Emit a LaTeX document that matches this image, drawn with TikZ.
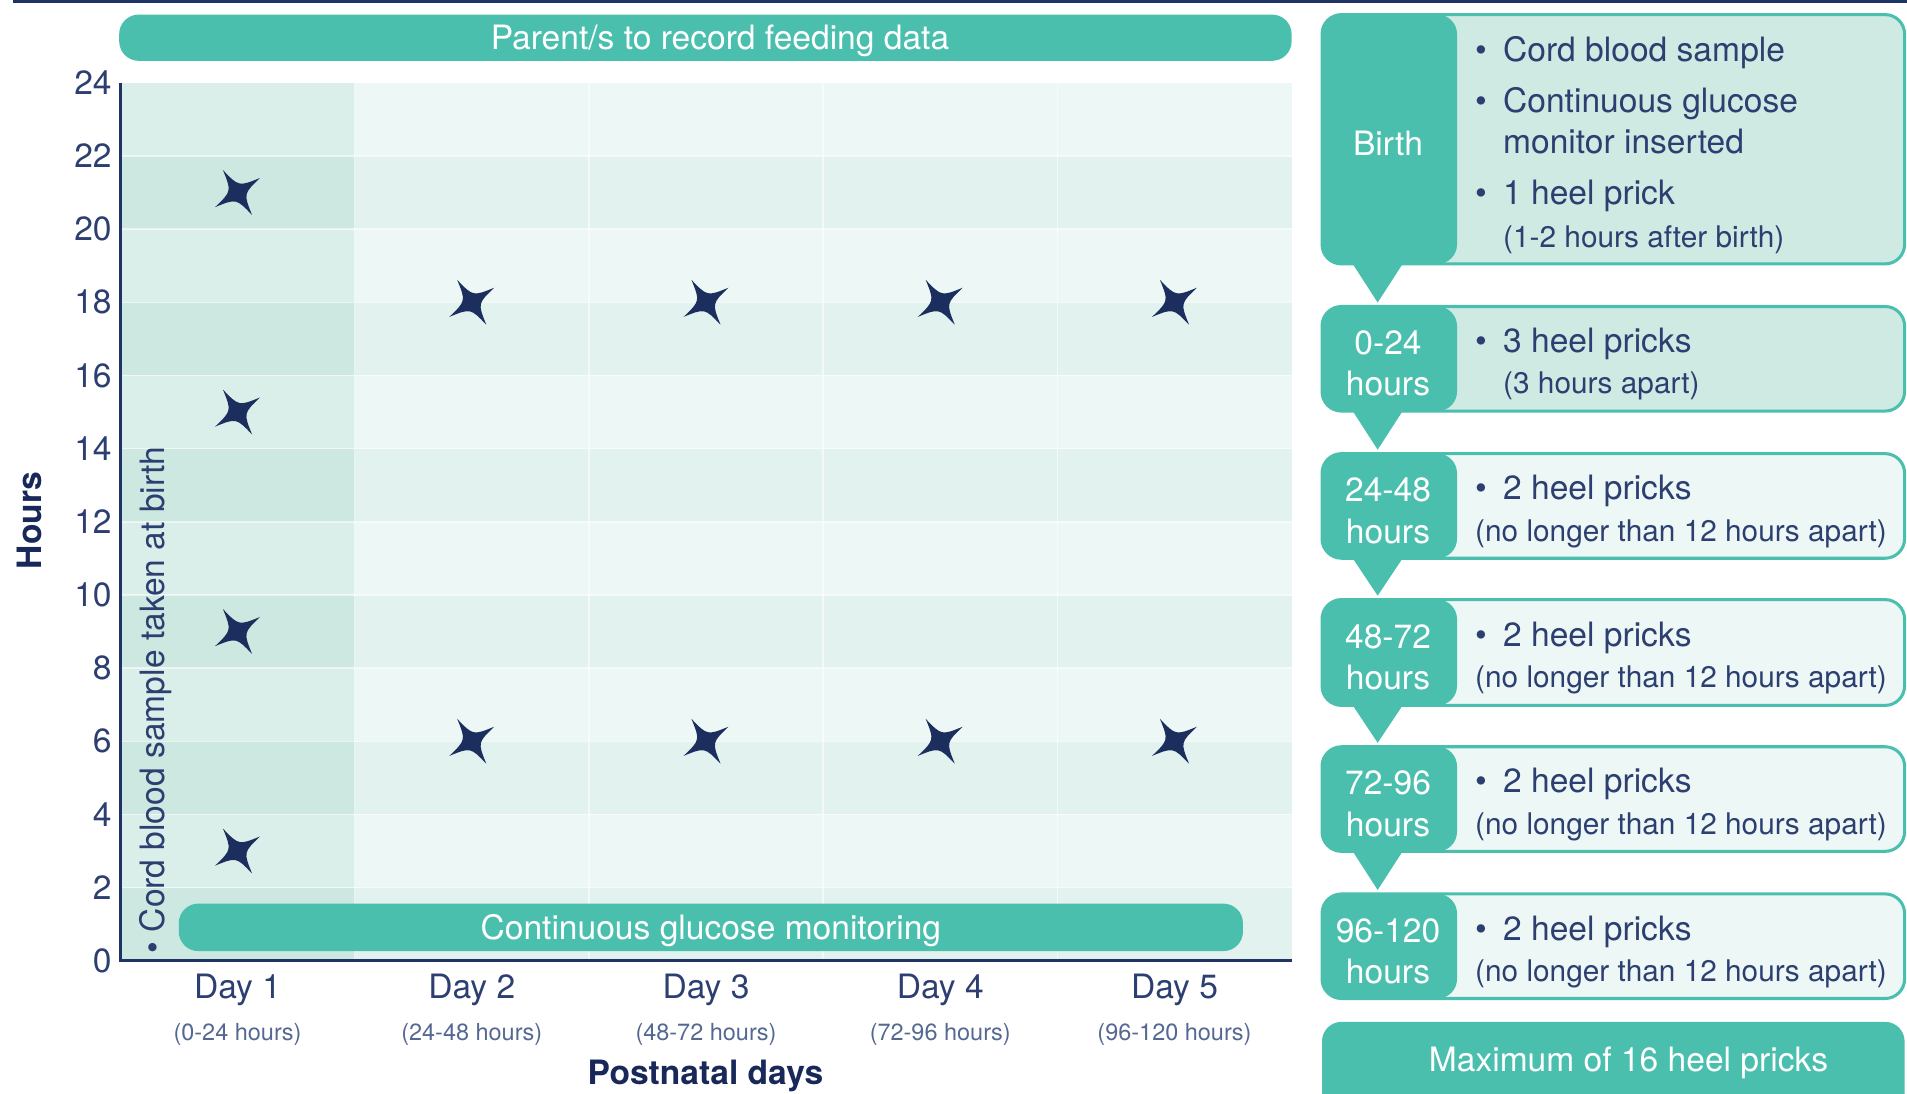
\documentclass[tikz,border=0pt]{standalone}
\usepackage{fontspec}
\setmainfont{TeX Gyre Heros}
\usetikzlibrary{positioning,calc}

\definecolor{mint}{RGB}{75,191,174}
\definecolor{ink}{RGB}{31,52,100}
\definecolor{inktext}{RGB}{44,63,112}
\definecolor{inksoft}{RGB}{84,104,146}
\definecolor{inkdark}{RGB}{24,40,88}
\definecolor{starc}{RGB}{27,46,94}
\definecolor{palemint}{RGB}{207,233,227}
\definecolor{palest}{RGB}{237,247,245}
\definecolor{dayonelt}{RGB}{218,238,234}
\definecolor{dayonedk}{RGB}{204,232,225}
\definecolor{daylt}{RGB}{237,247,245}
\definecolor{daydk}{RGB}{226,242,239}

\newcommand\fbase{\fontsize{27.6}{34}\selectfont}
\newcommand\fsub{\fontsize{24.5}{34}\selectfont}
\newcommand\fday{\fontsize{19.3}{23}\selectfont}
\newcommand\bul{\makebox[23pt][l]{\textbullet}}
\newcommand\bulgap{\hspace*{23pt}}

\begin{document}
\begin{tikzpicture}[x=1pt, y=-1pt,
	lbl/.style = {inner sep=0pt, font=\fbase},
	bar/.style = {fill=mint, rounded corners=16pt, text=white, font=\fbase, inner sep=0pt},
	stage/.style = {draw=mint, line width=2.5pt, rounded corners=16pt, minimum width=479pt, inner sep=0pt,
		path picture={\fill[mint] (path picture bounding box.north west) rectangle ([xshift=111pt]path picture bounding box.south west);}},
	grid/.style = {white, line width=1.2pt, opacity=0.6},
	sparkle/.pic = {\fill[starc] (33:22pt) .. controls (78:5pt) .. (123:22pt) .. controls (168:5pt) .. (213:22pt)
		.. controls (258:5pt) .. (303:22pt) .. controls (348:5pt) .. (33:22pt) -- cycle;}
	]
	\useasboundingbox (0,0) rectangle (1568,899);
	\clip (0,0) rectangle (1568,899);
	\draw[ink, line width=2.5pt] (11,1.25) -- (1568,1.25);

	\begin{scope}[shift={(99pt,-790pt)}, x=192.6pt, y=30.08pt]
	\fill[dayonelt] (0,0) rectangle (1,24);
	\fill[daylt] (1,0) rectangle (5,24);
	\foreach \h in {0,4,...,20} {
		\fill[dayonedk] (0,\h) rectangle (1,\h+2);
		\fill[daydk] (1,\h) rectangle (5,\h+2);
	}
	\foreach \h in {2,4,...,22} \draw[grid] (0,\h) -- (5,\h);
	\foreach \i in {1,...,4} \draw[grid] (\i,0) -- (\i,24);

	\foreach \h in {3,9,15,21} \pic at (0.5,\h) {sparkle};
	\foreach \i in {1.5,2.5,3.5,4.5} {
		\pic at (\i,6) {sparkle};
		\pic at (\i,18) {sparkle};
	}

	\draw[ink, line width=2.5pt] (0,24) -- (0,0) -- (5,0);
	\foreach \h in {0,2,...,24} \node[lbl, text=inktext, anchor=east] (tk\h) at ([xshift=-7pt]0,\h) {\h};
	\foreach \i/\rng in {1/0-24, 2/24-48, 3/48-72, 4/72-96, 5/96-120} {
		\node[lbl, text=inktext] (day\i) at (\i-0.5,-0.8) {Day \i};
		\node[lbl, font=\fday, text=inksoft, below=14pt of day\i] (rng\i) {(\rng\ hours)};
	}
	\end{scope}

	\node[bar, minimum width=964pt, minimum height=38pt] (feed) at (580,31) {};
	\node[lbl, text=white] (feedt) at (592,34) {Parent/s to record feeding data};
	\node[bar, minimum width=875pt, minimum height=39pt] (cgm) at (584.5,762.5) {};
	\node[lbl, text=white] (cgmt) at (584.5,765.5) {Continuous glucose monitoring};
	\node[lbl, text=inktext, rotate=90, anchor=west] (cord) at (128,784) {\textbullet\ Cord blood sample taken at birth};
	\node[lbl, font=\fbase\bfseries, text=inkdark, rotate=90] (hrs) at (24,428) {Hours};
	\node[lbl, font=\fbase\bfseries, text=inkdark] (pnd) at (580,885) {Postnatal days};

	\foreach \n/\yc/\hh/\fillc in {0/114.5/205/palemint, 1/295/86/palemint, 2/416/86/palest,
		3/536.5/87/palest, 4/657/86/palest, 5/778/86/palest}
		\node[stage, fill=\fillc, minimum height=\hh pt] (b\n) at (1326.5,\yc) {};
	\foreach \a/\b in {b0/b1, b1/b2, b2/b3, b3/b4, b4/b5}
		\fill[mint] ([shift={(26pt,2pt)}]\a.south west) -- ([shift={(68pt,2pt)}]\a.south west)
			-- ([shift={(47pt,2pt)}]\b.north west) -- cycle;

	\node[lbl, text=white, align=center] (t0) at ([shift={(55.5pt,-3pt)}]b0.west) {Birth};
	\node[lbl, text=white, align=center] (t1) at ([shift={(55.5pt,-4pt)}]b1.west) {0-24\\hours};
	\node[lbl, text=white, align=center] (t2) at ([shift={(55.5pt,-4pt)}]b2.west) {24-48\\hours};
	\node[lbl, text=white, align=center] (t3) at ([shift={(55.5pt,-4pt)}]b3.west) {48-72\\hours};
	\node[lbl, text=white, align=center] (t4) at ([shift={(55.5pt,-4pt)}]b4.west) {72-96\\hours};
	\node[lbl, text=white, align=center] (t5) at ([shift={(55.5pt,-4pt)}]b5.west) {96-120\\hours};

	\node[lbl, text=inktext, align=left, anchor=west] (d0) at ([shift={(127pt,-4.5pt)}]b0.west)
		{\bul Cord blood sample\\[8pt]\bul Continuous glucose\\\bulgap monitor inserted\\[8pt]\bul 1 heel prick\\[1pt]\bulgap{\fsub (1-2 hours after birth)}};
	\node[lbl, text=inktext, align=left, anchor=west] (d1) at ([shift={(127pt,-4.5pt)}]b1.west)
		{\bul 3 heel pricks\\\bulgap{\fsub (3 hours apart)}};
	\foreach \n in {2,...,5}
		\node[lbl, text=inktext, align=left, anchor=west] (d\n) at ([shift={(127pt,-4.5pt)}]b\n.west)
			{\bul 2 heel pricks\\{\fsub (no longer than 12 hours apart)}};

	\node[bar, minimum width=479pt, minimum height=100pt, anchor=north] (bmax) at (1326.5,840) {};
	\node[lbl, text=white] (maxt) at ([shift={(12.5pt,-34pt)}]bmax.north) {Maximum of 16 heel pricks};
\end{tikzpicture}
\end{document}
